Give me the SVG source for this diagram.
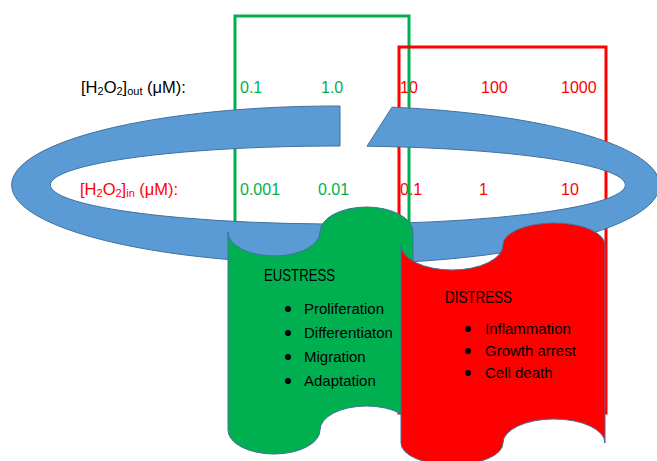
<svg xmlns="http://www.w3.org/2000/svg" width="657" height="461" viewBox="0 0 657 461">
<style>
text{font-family:"Liberation Sans",Arial,sans-serif;}
.num{font-size:16px;}
.g{fill:#00B050;}
.r{fill:#FF0000;}
.k{fill:#000000;}
.lbl{font-size:16.5px;}
.sub{font-size:11px;}
.item{font-size:15px;fill:#000;}
.title{font-size:16.5px;fill:#000;}
.box-g{fill:none;stroke:#00B050;stroke-width:3;}
.box-r{fill:none;stroke:#FF0000;stroke-width:3;}
.ring{fill:#5B9BD5;stroke:#41719C;stroke-width:1;}
.shape{stroke:#41719C;stroke-width:1;}
</style>
<rect width="657" height="461" fill="#ffffff"/>

<g id="labels">
  <text class="lbl k" x="81" y="93">[H<tspan class="sub" dy="2">2</tspan><tspan dy="-2">O</tspan><tspan class="sub" dy="2">2</tspan><tspan dy="-2">]</tspan><tspan class="sub" dy="2">out</tspan><tspan dy="-2"> (μM):</tspan></text>
  <text class="lbl r" x="80" y="195">[H<tspan class="sub" dy="2">2</tspan><tspan dy="-2">O</tspan><tspan class="sub" dy="2">2</tspan><tspan dy="-2">]</tspan><tspan class="sub" dy="2">in</tspan><tspan dy="-2"> (μM):</tspan></text>
  <text class="num g" x="240" y="93">0.1</text>
  <text class="num g" x="321" y="93">1.0</text>
  <text class="num r" x="400" y="93">10</text>
  <text class="num r" x="481" y="93">100</text>
  <text class="num r" x="561" y="93">1000</text>
  <text class="num g" x="240" y="195">0.001</text>
  <text class="num g" x="318" y="195">0.01</text>
  <text class="num r" x="400" y="195">0.1</text>
  <text class="num r" x="479" y="195">1</text>
  <text class="num r" x="561" y="195">10</text>
</g>

<g id="ranges">
  <rect id="eustress-range" class="box-g" x="235" y="16" width="174" height="384"/>
  <rect id="distress-range" class="box-r" x="399" y="47" width="207" height="366"/>
</g>

<g id="ring">
  <path class="ring" d="M392,107.2 A324,79 0 1 1 340,106 L340,146 A287.5,39 0 1 0 367,146.2 Z"/>
</g>

<g id="eustress">
  <path class="shape" fill="#00B050" d="M228,232 A46,24 0 0 0 320,232 A46.5,25 0 0 1 413,232 L413,430 A46.5,24 0 0 0 320,430 A46,24 0 0 1 228,430 Z"/>
  <text class="title" x="264" y="281" textLength="71" lengthAdjust="spacingAndGlyphs">EUSTRESS</text>
  <circle cx="288" cy="309" r="3"/>
  <circle cx="288" cy="333" r="3"/>
  <circle cx="288" cy="357" r="3"/>
  <circle cx="288" cy="381" r="3"/>
  <text class="item" x="304" y="314">Proliferation</text>
  <text class="item" x="304" y="338">Differentiaton</text>
  <text class="item" x="304" y="362">Migration</text>
  <text class="item" x="304" y="386">Adaptation</text>
</g>

<g id="distress">
  <path class="shape" fill="#FF0000" d="M401,245 A51,25 0 0 0 503,245 A51,22 0 0 1 605,245 L605,443 A51,24 0 0 0 503,443 A51,22 0 0 1 401,443 Z"/>
  <text class="title" x="445" y="303" textLength="67" lengthAdjust="spacingAndGlyphs">DISTRESS</text>
  <circle cx="468" cy="329" r="3"/>
  <circle cx="468" cy="351" r="3"/>
  <circle cx="468" cy="373" r="3"/>
  <text class="item" x="485" y="334">Inflammation</text>
  <text class="item" x="485" y="356">Growth arrest</text>
  <text class="item" x="485" y="378">Cell death</text>
</g>
</svg>
